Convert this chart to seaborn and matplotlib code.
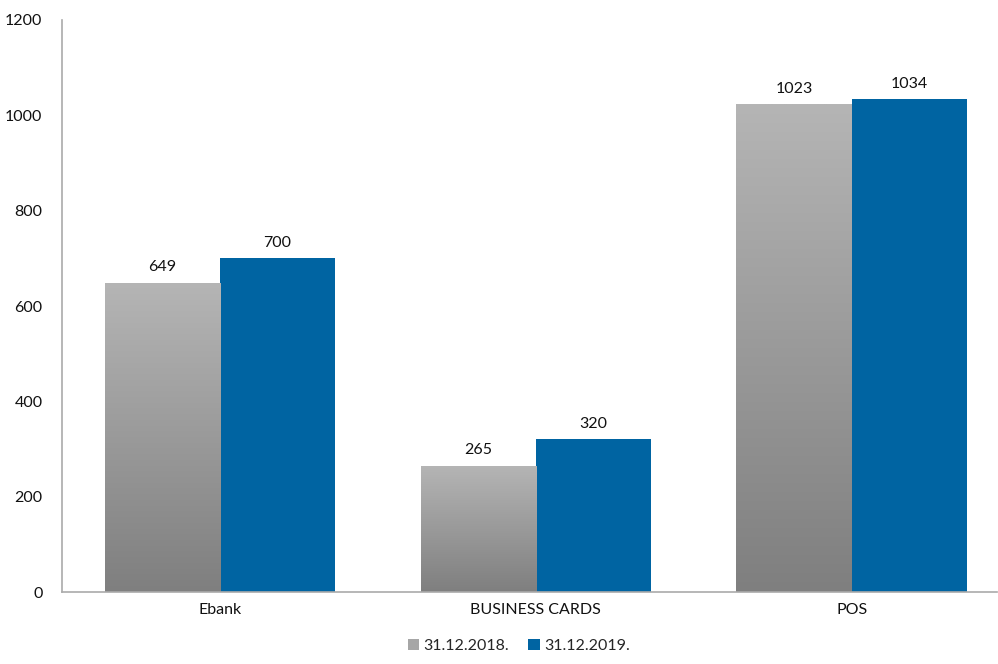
import numpy as np
import pandas as pd
import matplotlib
matplotlib.use("Agg")
import matplotlib.pyplot as plt
import seaborn as sns
from matplotlib.colors import LinearSegmentedColormap
from matplotlib.patches import Patch

# data
categories = ["Ebank", "BUSINESS CARDS", "POS"]
series_names = ["31.12.2018.", "31.12.2019."]
values_2018 = [649, 265, 1023]
values_2019 = [700, 320, 1034]

df = pd.DataFrame({
    "category": categories * 2,
    "period": [series_names[0]] * 3 + [series_names[1]] * 3,
    "value": values_2018 + values_2019,
})

sns.set_style("white")
plt.rcParams["font.family"] = ["Lato", "DejaVu Sans"]

fig = plt.figure(figsize=(9.98, 6.64), dpi=100)
ax = fig.add_axes([0.0621, 0.1084, 0.9369, 0.8615])

gray_mid = "#a6a6a6"
blue = "#0064a2"
sns.barplot(data=df, x="category", y="value", hue="period",
            palette=[gray_mid, blue], width=0.73, saturation=1,
            linewidth=0, legend=False, ax=ax)

# gradient fill for the 2018 bars (light on top, dark at bottom)
cmap = LinearSegmentedColormap.from_list("g", ["#7f7f7f", "#b5b5b5"])
grad = np.linspace(0, 1, 256).reshape(-1, 1)
for bar in ax.containers[0]:
    x0, y0 = bar.get_x(), bar.get_y()
    w, h = bar.get_width(), bar.get_height()
    bar.set_facecolor("none")
    im = ax.imshow(grad, cmap=cmap, origin="lower", aspect="auto",
                   extent=[x0, x0 + w, y0, y0 + h], zorder=1.5)
    im.set_clip_path(bar)

ax.set_xlim(-0.5, 2.46)
ax.set_ylim(0, 1200)
ax.set_yticks(range(0, 1201, 200))

for cont in ax.containers:
    ax.bar_label(cont, labels=[f"{int(v)}" for v in cont.datavalues],
                 padding=6, fontsize=11.5, color="#111111")

for side in ["top", "right"]:
    ax.spines[side].set_visible(False)
for side in ["left", "bottom"]:
    ax.spines[side].set_color("#aaaaaa")
    ax.spines[side].set_linewidth(1.2)

ax.tick_params(axis="both", length=0, labelsize=11.5, colors="#111111")
ax.tick_params(axis="y", pad=14)
ax.tick_params(axis="x", pad=8)
ax.set_xlabel("")
ax.set_ylabel("")
ax.grid(False)

handles = [Patch(facecolor=gray_mid, edgecolor="none"),
           Patch(facecolor=blue, edgecolor="none")]
fig.legend(handles, series_names, loc="lower center", ncol=2,
           bbox_to_anchor=(0.52, -0.005), frameon=False, fontsize=11.5,
           handlelength=0.7, handleheight=0.7, handletextpad=0.3,
           columnspacing=1.2)

fig.savefig("out.png", dpi=100)
